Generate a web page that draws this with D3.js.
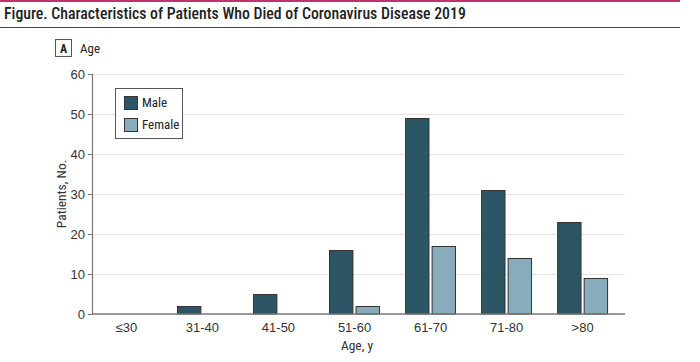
<!DOCTYPE html>
<html>
<head>
<meta charset="utf-8">
<script src="https://cdn.jsdelivr.net/npm/d3@7"></script>
<style>
  body { margin: 0; background: #fff; }
  svg text { font-family: "Liberation Sans Narrow", "Roboto Condensed", "Open Sans", sans-serif; }
</style>
</head>
<body>
<div id="chart"></div>
<script>
// Chart data
const ageGroups = ['≤30', '31-40', '41-50', '51-60', '61-70', '71-80', '>80'];
const seriesNames = ['Male', 'Female'];
const maleCounts = [0, 2, 5, 16, 49, 31, 23];
const femaleCounts = [0, 0, 0, 2, 17, 14, 9];
const yTicks = [0, 10, 20, 30, 40, 50, 60];

const width = 700, height = 362;
const colors = { Male: '#2c5665', Female: '#88acbb' };

const svg = d3.select('#chart').append('svg')
    .attr('width', width)
    .attr('height', height);

svg.append('rect').attr('width', width).attr('height', height).attr('fill', '#fff');

// top accent and title
svg.append('rect').attr('x', 0).attr('y', 0).attr('width', 680).attr('height', 2).attr('fill', '#c4306c');
svg.append('text')
    .attr('x', 4).attr('y', 19)
    .attr('font-size', 15.8)
    .attr('font-weight', 500)
    .attr('fill', '#222')
    .text('Figure. Characteristics of Patients Who Died of Coronavirus Disease 2019');
svg.append('line')
    .attr('x1', 0).attr('x2', 680).attr('y1', 27.5).attr('y2', 27.5)
    .attr('stroke', '#444').attr('stroke-width', 1);

// panel label
svg.append('rect')
    .attr('x', 55.5).attr('y', 39.5).attr('width', 16).attr('height', 17)
    .attr('fill', '#fff').attr('stroke', '#555');
svg.append('text')
    .attr('x', 63.5).attr('y', 52.5).attr('text-anchor', 'middle')
    .attr('font-size', 12).attr('font-weight', 'bold').attr('fill', '#222')
    .text('A');
svg.append('text')
    .attr('x', 80).attr('y', 53)
    .attr('font-size', 13).attr('fill', '#222')
    .text('Age');

const margin = { left: 92, right: 75, top: 74, bottom: 48 };
const plotRight = width - margin.right;
const plotBottom = height - margin.bottom;

const x0 = d3.scaleBand().domain(ageGroups).range([margin.left - 4, plotRight - 4]).paddingInner(0.33).paddingOuter(0.17);
const x1 = d3.scaleBand().domain(seriesNames).range([0, x0.bandwidth()]).paddingInner(0.08);
const y = d3.scaleLinear().domain([0, 60]).range([plotBottom, margin.top]);

// gridlines
svg.append('g')
    .selectAll('line')
    .data(yTicks.filter(d => d > 0))
    .enter().append('line')
    .attr('x1', margin.left).attr('x2', plotRight)
    .attr('y1', d => Math.round(y(d)) + 0.5).attr('y2', d => Math.round(y(d)) + 0.5)
    .attr('stroke', '#e4e4e4').attr('stroke-width', 1.2);

// y axis
const yAxis = svg.append('g')
    .attr('transform', `translate(${margin.left},0)`)
    .call(d3.axisLeft(y).tickValues(yTicks).tickSize(4).tickPadding(3));
yAxis.select('.domain').attr('stroke', '#777').attr('stroke-width', 1.2);
yAxis.selectAll('.tick line').attr('stroke', '#777');
yAxis.selectAll('.tick text').attr('font-size', 13).attr('fill', '#333')
    .style('font-family', '"Liberation Sans Narrow", sans-serif');

// bars
const rows = ageGroups.map((g, i) => ({ group: g, Male: maleCounts[i], Female: femaleCounts[i] }));
const groups = svg.append('g')
    .selectAll('g')
    .data(rows)
    .enter().append('g')
    .attr('transform', d => `translate(${x0(d.group)},0)`);

groups.selectAll('rect')
    .data(d => seriesNames.map(s => ({ key: s, value: d[s] })).filter(v => v.value > 0))
    .enter().append('rect')
    .attr('x', d => x1(d.key) + 0.5)
    .attr('y', d => y(d.value) + 0.5)
    .attr('width', x1.bandwidth() - 1)
    .attr('height', d => y(0) - y(d.value) - 0.5)
    .attr('fill', d => colors[d.key])
    .attr('stroke', '#333')
    .attr('stroke-width', 1);

// x axis
const xAxis = svg.append('g')
    .attr('transform', `translate(0,${plotBottom})`)
    .call(d3.axisBottom(x0).tickSize(0).tickPadding(9));
xAxis.select('.domain').remove();
xAxis.append('line')
    .attr('x1', margin.left).attr('x2', plotRight)
    .attr('stroke', '#777').attr('stroke-width', 1.5);
xAxis.selectAll('.tick text').attr('font-size', 13).attr('fill', '#333')
    .style('font-family', '"Liberation Sans Narrow", sans-serif');

// axis titles
svg.append('text')
    .attr('x', 357).attr('y', 350)
    .attr('text-anchor', 'middle').attr('font-size', 13.5).attr('fill', '#333')
    .text('Age, y');
svg.append('text')
    .attr('transform', `translate(66,${(margin.top + plotBottom) / 2}) rotate(-90)`)
    .attr('text-anchor', 'middle').attr('font-size', 13.5).attr('fill', '#333')
    .text('Patients, No.');

// legend
const legend = svg.append('g').attr('transform', 'translate(115,88)');
legend.append('rect')
    .attr('x', 0.5).attr('y', 0.5).attr('width', 67).attr('height', 50)
    .attr('fill', '#fff').attr('stroke', '#555');
seriesNames.forEach((s, i) => {
    legend.append('rect')
        .attr('x', 9.5).attr('y', 8.5 + i * 22).attr('width', 13).attr('height', 13)
        .attr('fill', colors[s]).attr('stroke', '#333');
    legend.append('text')
        .attr('x', 27).attr('y', 19 + i * 22)
        .attr('font-size', 13).attr('fill', '#222')
        .text(s);
});
</script>
</body>
</html>
